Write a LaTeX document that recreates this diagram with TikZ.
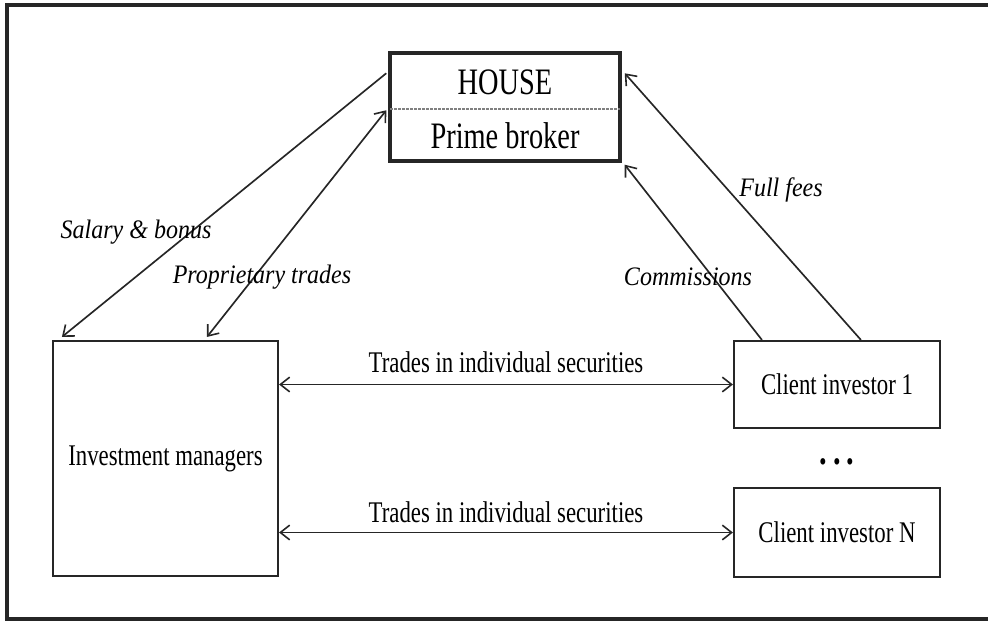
\documentclass[tikz,border=0pt]{standalone}
\usepackage{fontspec}
\setmainfont{Liberation Serif}[FakeStretch=0.76]
\newfontfamily\lblfont{Liberation Serif}[FakeStretch=0.9]
\usetikzlibrary{arrows.meta,calc}
\definecolor{ink}{gray}{0.15}
\begin{document}
\begin{tikzpicture}[x=0.75pt,y=-0.75pt,
  every node/.style={inner sep=0pt, text=black},
  boxnode/.style={draw=ink, line width=1.6pt, fill=white},
  maintext/.style={font=\fontsize{22.5}{27}\selectfont},
  housetext/.style={font=\fontsize{28}{33}\selectfont},
  lbltext/.style={font=\fontsize{20}{24}\selectfont\lblfont\itshape},
  conn/.style={draw=ink, line width=1.25pt},
  tip/.style={-{Straight Barb[length=7pt,width=11pt,line width=1.2pt]}},
  dtip/.style={{Straight Barb[length=7pt,width=11pt,line width=1.2pt]}-{Straight Barb[length=7pt,width=11pt,line width=1.2pt]}}
]
\useasboundingbox (0,0) rectangle (988,622);
\clip (0,0) rectangle (988,622);
% outer frame (right side runs off the picture)
\draw[ink, line width=2.4pt] (1000,5) -- (7,5) -- (7,619) -- (1000,619);

% nodes
\node[boxnode, line width=2.6pt, minimum width=172.5pt, minimum height=81pt] (house) at (505,107) {};
\node[housetext] (houset) at (505,82) {HOUSE};
\node[housetext] (housep) at (505,136) {Prime broker};
\draw[gray, line width=1.2pt, dash pattern=on 2pt off 1pt]
  ($(house.west)+(2,2)$) -- ($(house.east)+(-2,2)$);

\node[boxnode, minimum width=168.75pt, minimum height=176.25pt, maintext] (im) at (165.5,458.5) {Investment managers};
\node[boxnode, minimum width=154.5pt, minimum height=65.25pt, maintext] (c1) at (837,384.5) {Client investor 1};
\node[boxnode, minimum width=154.5pt, minimum height=66.75pt, maintext] (cN) at (837,532.5) {Client investor N};
\node[font=\fontsize{30}{30}\selectfont\bfseries] (dots) at (837,462) {.\kern4.6pt.\kern4.6pt.};

% anchor coordinates
\coordinate (hSal) at ($(house.north west)+(-2,22)$);
\coordinate (hProp) at ($(house.north west)+(-2,59)$);
\coordinate (hFull) at ($(house.north east)+(3,22)$);
\coordinate (hCom) at ($(house.south east)+(3,2)$);
\coordinate (imSal) at ($(im.north west)+(10,-3)$);
\coordinate (imProp) at ($(im.north west)+(155,-3)$);
\coordinate (cCom) at ($(c1.north west)+(29,0)$);
\coordinate (cFull) at ($(c1.north west)+(128,0)$);

% connectors
\draw[conn, tip] (hSal) -- (imSal);
\draw[conn, dtip] (imProp) -- (hProp);
\draw[conn, tip] (cCom) -- (hCom);
\draw[conn, tip] (cFull) -- (hFull);
\draw[conn, dtip] (im.east |- c1.west) -- (c1.west);
\draw[conn, dtip] (im.east |- cN.west) -- (cN.west);

% labels
\node[maintext] (t1) at (506,362) {Trades in individual securities};
\node[maintext] (t2) at (506,512) {Trades in individual securities};
\node[lbltext] (lSal) at (136,232) {Salary \& bonus};
\node[lbltext] (lProp) at (262,277) {Proprietary trades};
\node[lbltext] (lCom) at (688,277) {Commissions};
\node[lbltext] (lFull) at (781,190) {Full fees};
\end{tikzpicture}
\end{document}
